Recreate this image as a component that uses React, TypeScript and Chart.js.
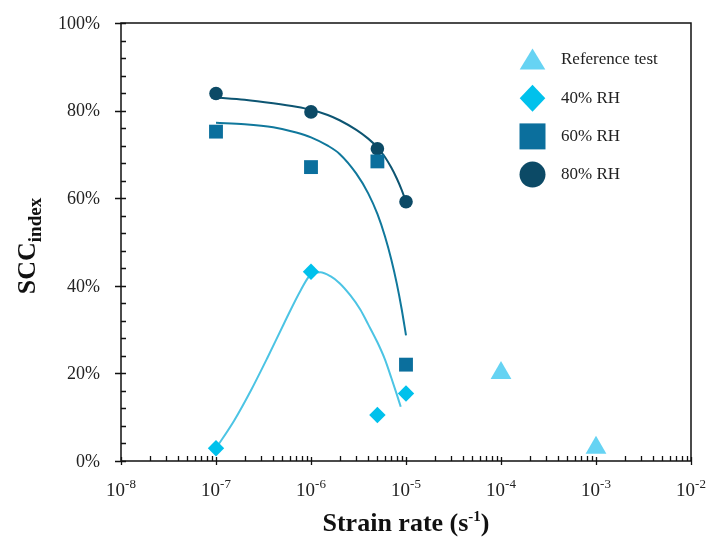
import React, { useEffect, useRef } from 'react';
import { Chart, registerables } from 'chart.js';
Chart.register(...registerables);

// ---------- data ----------
const seriesNames = ['Reference test', '40% RH', '60% RH', '80% RH'];

const refX = [1e-4, 1e-3];
const refY = [20.1, 3.0];

const rh40X = [1e-7, 1e-6, 5e-6, 1e-5];
const rh40Y = [2.9, 43.2, 10.5, 15.4];

const rh60X = [1e-7, 1e-6, 5e-6, 1e-5];
const rh60Y = [75.2, 67.1, 68.4, 22.0];

const rh80X = [1e-7, 1e-6, 5e-6, 1e-5];
const rh80Y = [83.9, 79.7, 71.3, 59.2];

// trend lines
const fit40X = [1e-7, 1.55e-7, 2.33e-7, 3.5e-7, 5.2e-7, 7.8e-7, 1e-6, 1.25e-6, 1.6e-6, 2e-6, 2.6e-6, 3.3e-6, 4e-6, 5e-6, 6e-6, 7e-6, 8e-6, 8.8e-6];
const fit40Y = [2.9, 9.2, 16.1, 23.7, 31.4, 39.0, 42.6, 43.1, 42.2, 40.6, 37.8, 34.6, 31.2, 27.1, 23.2, 19.0, 15.2, 12.4];

const fit60X = [1e-7, 2e-7, 4e-7, 7e-7, 1e-6, 1.5e-6, 2e-6, 3e-6, 4e-6, 5e-6, 6e-6, 7e-6, 8e-6, 9e-6, 1e-5];
const fit60Y = [77.2, 76.9, 76.2, 75.0, 73.9, 72.0, 70.1, 65.6, 61.1, 56.4, 51.3, 46.0, 40.5, 34.7, 28.7];

const fit80X = [1e-7, 2e-7, 4e-7, 7e-7, 1e-6, 1.5e-6, 2e-6, 3e-6, 4e-6, 5e-6, 6e-6, 7e-6, 8e-6, 9e-6, 1e-5];
const fit80Y = [83.0, 82.5, 81.7, 80.9, 80.2, 79.0, 77.8, 75.6, 73.6, 71.6, 69.4, 67.0, 64.5, 61.9, 59.2];

const xTickValues = [1e-8, 1e-7, 1e-6, 1e-5, 1e-4, 1e-3, 1e-2];
const xTickExponents = ['-8', '-7', '-6', '-5', '-4', '-3', '-2'];
const yTickValues = [0, 20, 40, 60, 80, 100];
const yTickLabels = ['0%', '20%', '40%', '60%', '80%', '100%'];

// ---------- styling ----------
const C_REF = '#66d3f3';
const C_40 = '#00c1ec';
const C_60 = '#0b6f9d';
const C_80 = '#0c4a66';
const L_40 = '#4cc4e4';
const L_60 = '#10789c';
const L_80 = '#0d5572';
const SERIF = "'Liberation Serif', 'Times New Roman', serif";

const zip = (xs: number[], ys: number[]) => xs.map((x, i) => ({ x, y: ys[i] }));

function drawMarker(ctx: CanvasRenderingContext2D, kind: number, x: number, y: number) {
  ctx.beginPath();
  if (kind === 0) {
    ctx.fillStyle = C_REF;
    ctx.moveTo(x, y - 11.5);
    ctx.lineTo(x + 12.8, y + 9.5);
    ctx.lineTo(x - 12.8, y + 9.5);
    ctx.closePath();
  } else if (kind === 1) {
    ctx.fillStyle = C_40;
    ctx.moveTo(x, y - 13.5);
    ctx.lineTo(x + 12.8, y);
    ctx.lineTo(x, y + 13.5);
    ctx.lineTo(x - 12.8, y);
    ctx.closePath();
  } else if (kind === 2) {
    ctx.fillStyle = C_60;
    ctx.rect(x - 13, y - 13, 26, 26);
  } else {
    ctx.fillStyle = C_80;
    ctx.arc(x, y, 13, 0, Math.PI * 2);
  }
  ctx.fill();
}

const decorPlugin = {
  id: 'decor',
  beforeDatasetsDraw(chart: any) {
    const { ctx, chartArea: a, scales } = chart;
    const xs = scales.x;
    const ys = scales.y;
    ctx.save();
    ctx.strokeStyle = '#111';
    ctx.lineWidth = 1.5;
    ctx.beginPath();
    ctx.moveTo(a.left, a.top);
    ctx.lineTo(a.right, a.top);
    ctx.lineTo(a.right, a.bottom);
    ctx.lineTo(a.left, a.bottom);
    ctx.closePath();
    ctx.stroke();

    ctx.lineWidth = 1.3;
    ctx.beginPath();
    for (let v = 0; v <= 100; v += 4) {
      const py = Math.round(ys.getPixelForValue(v)) + 0.5;
      if (v % 20 === 0) {
        ctx.moveTo(a.left - 6, py);
        ctx.lineTo(a.left + 5, py);
      } else {
        ctx.moveTo(a.left, py);
        ctx.lineTo(a.left + 5, py);
      }
    }
    xTickValues.forEach((dv, i) => {
      const px = Math.round(xs.getPixelForValue(dv)) + 0.5;
      ctx.moveTo(px, a.bottom - 4);
      ctx.lineTo(px, a.bottom + 4);
      if (i < xTickValues.length - 1) {
        for (let m = 2; m <= 9; m++) {
          const mx = Math.round(xs.getPixelForValue(dv * m)) + 0.5;
          ctx.moveTo(mx, a.bottom - 5);
          ctx.lineTo(mx, a.bottom);
        }
      }
    });
    ctx.stroke();
    ctx.restore();
  },
  afterDraw(chart: any) {
    const { ctx, chartArea: a, scales } = chart;
    const xs = scales.x;
    const ys = scales.y;
    ctx.save();
    ctx.fillStyle = '#222';

    // y tick labels
    ctx.textAlign = 'right';
    ctx.textBaseline = 'middle';
    ctx.font = `18px ${SERIF}`;
    yTickValues.forEach((v, i) => {
      ctx.fillText(yTickLabels[i], a.left - 21, ys.getPixelForValue(v) + 1);
    });

    // x tick labels: 10 with superscript exponent
    ctx.textAlign = 'left';
    ctx.textBaseline = 'alphabetic';
    xTickValues.forEach((dv, i) => {
      const px = xs.getPixelForValue(dv);
      ctx.font = `19px ${SERIF}`;
      const wb = ctx.measureText('10').width;
      ctx.font = `13px ${SERIF}`;
      const we = ctx.measureText(xTickExponents[i]).width;
      const start = px - (wb + we) / 2;
      ctx.font = `19px ${SERIF}`;
      ctx.fillText('10', start, a.bottom + 35);
      ctx.font = `13px ${SERIF}`;
      ctx.fillText(xTickExponents[i], start + wb, a.bottom + 27);
    });

    // x title
    ctx.fillStyle = '#111';
    const t1 = 'Strain rate (s';
    const t2 = '-1';
    const t3 = ')';
    ctx.font = `bold 26px ${SERIF}`;
    const w1 = ctx.measureText(t1).width;
    const w3 = ctx.measureText(t3).width;
    ctx.font = `bold 15px ${SERIF}`;
    const w2 = ctx.measureText(t2).width;
    const cx = (a.left + a.right) / 2;
    const sx = cx - (w1 + w2 + w3) / 2;
    const by = a.bottom + 70;
    ctx.font = `bold 26px ${SERIF}`;
    ctx.fillText(t1, sx, by);
    ctx.font = `bold 15px ${SERIF}`;
    ctx.fillText(t2, sx + w1, by - 10);
    ctx.font = `bold 26px ${SERIF}`;
    ctx.fillText(t3, sx + w1 + w2, by);

    // y title
    ctx.save();
    ctx.translate(35, (a.top + a.bottom) / 2 + 4);
    ctx.rotate(-Math.PI / 2);
    ctx.font = `bold 26px ${SERIF}`;
    const ws = ctx.measureText('SCC').width;
    ctx.font = `bold 19px ${SERIF}`;
    const wi = ctx.measureText('index').width;
    const s0 = -(ws + wi) / 2;
    ctx.font = `bold 26px ${SERIF}`;
    ctx.fillText('SCC', s0, 0);
    ctx.font = `bold 19px ${SERIF}`;
    ctx.fillText('index', s0 + ws, 6);
    ctx.restore();

    // legend
    seriesNames.forEach((name, i) => {
      const ly = 60 + i * 38.2;
      drawMarker(ctx, i, 532.5, ly);
      ctx.fillStyle = '#222';
      ctx.font = `17px ${SERIF}`;
      ctx.textBaseline = 'middle';
      ctx.fillText(name, 561, ly);
    });
    ctx.restore();
  },
};

export default function App() {
  const ref = useRef<HTMLCanvasElement | null>(null);
  useEffect(() => {
    if (!ref.current) return;
    const lineDs = (xs: number[], ys: number[], color: string) => ({
      type: 'line' as const,
      data: zip(xs, ys),
      borderColor: color,
      borderWidth: 2,
      pointRadius: 0,
      fill: false,
      cubicInterpolationMode: 'monotone' as const,
      showLine: true,
    });
    const ptDs = (xs: number[], ys: number[], color: string, style: string, r: number) => ({
      type: 'scatter' as const,
      data: zip(xs, ys),
      backgroundColor: color,
      borderColor: color,
      borderWidth: 0,
      pointStyle: style,
      pointRadius: r,
      pointHoverRadius: r,
    });
    const chart = new Chart(ref.current, {
      type: 'scatter',
      data: {
        datasets: [
          ptDs(refX, refY, C_REF, 'triangle', 12),
          ptDs(rh40X, rh40Y, C_40, 'rectRot', 8.2),
          ptDs(rh60X, rh60Y, C_60, 'rect', 9.8),
          ptDs(rh80X, rh80Y, C_80, 'circle', 6.8),
          lineDs(fit40X, fit40Y, L_40),
          lineDs(fit60X, fit60Y, L_60),
          lineDs(fit80X, fit80Y, L_80),
        ] as any,
      },
      options: {
        responsive: false,
        animation: false,
        events: [],
        layout: { padding: { left: 0, right: 25, top: 23, bottom: 0 } },
        plugins: { legend: { display: false }, tooltip: { enabled: false }, title: { display: false } },
        scales: {
          x: {
            type: 'logarithmic',
            min: 1e-8,
            max: 1e-2,
            grid: { display: false, drawTicks: false },
            border: { display: false },
            ticks: { display: false },
            afterFit: (s: any) => { s.height = 78; },
          },
          y: {
            type: 'linear',
            min: 0,
            max: 100,
            grid: { display: false, drawTicks: false },
            border: { display: false },
            ticks: { display: false, stepSize: 20 },
            afterFit: (s: any) => { s.width = 121; },
          },
        },
      },
      plugins: [decorPlugin],
    });
    return () => chart.destroy();
  }, []);
  return (
    <canvas
      ref={ref}
      width={716}
      height={539}
      style={{ position: 'fixed', left: 0, top: 0, width: 716, height: 539, background: '#fff' }}
    />
  );
}
